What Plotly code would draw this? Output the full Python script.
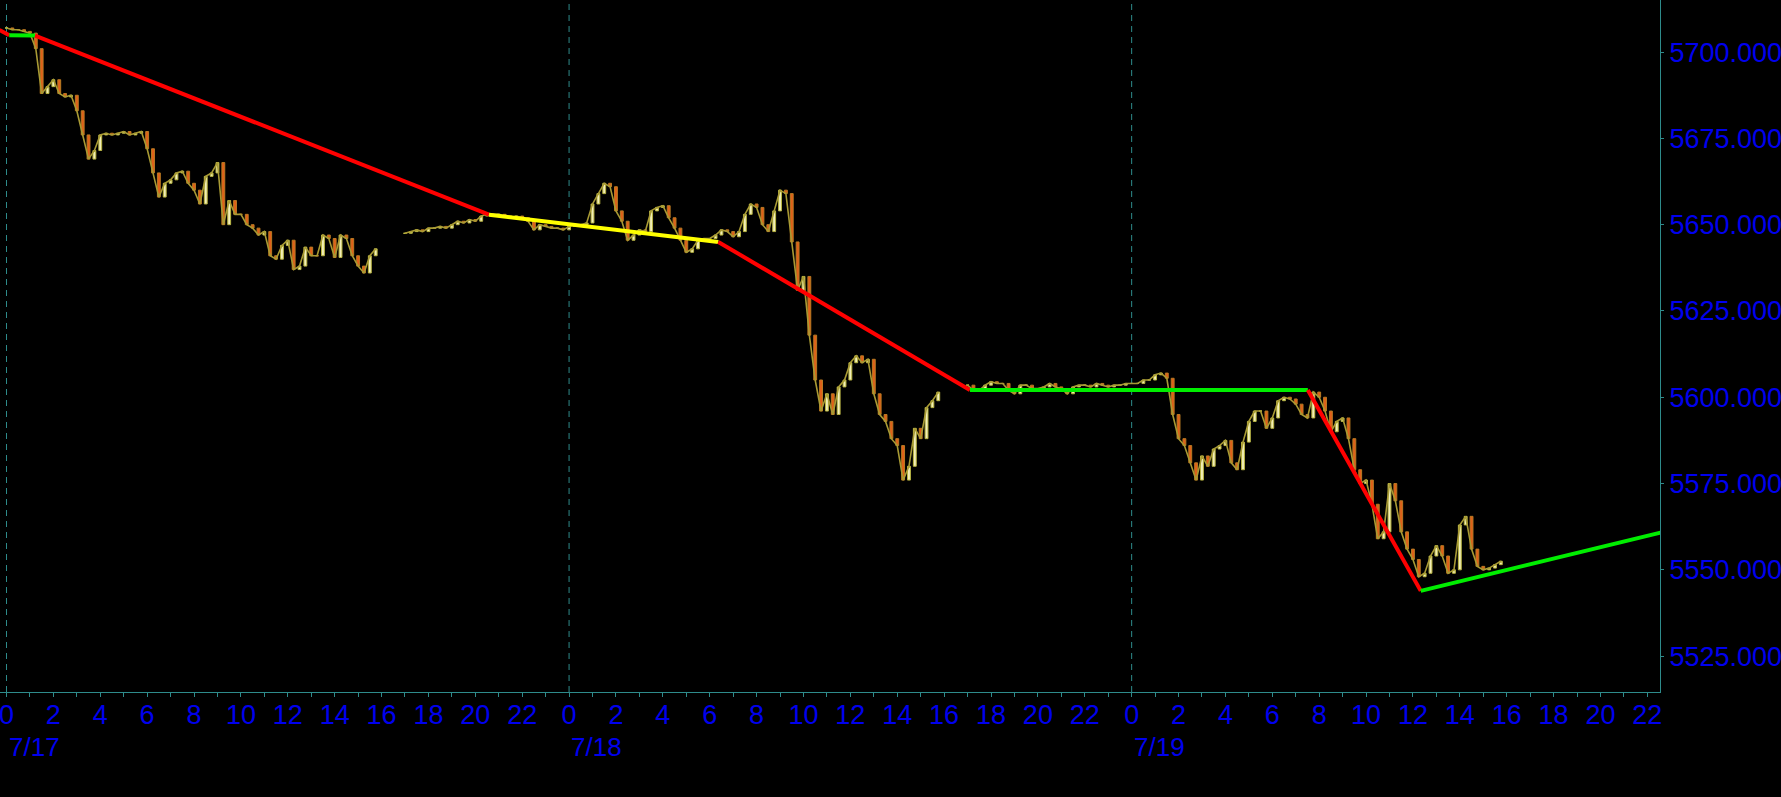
import plotly.graph_objects as go
from datetime import datetime, timedelta

# ---------------- data ----------------
session_starts = ["2024-07-17 00:00", "2024-07-17 17:00", "2024-07-18 17:00"]
bar_minutes = 15

closes_s1 = [
    5707, 5706.5, 5706.5, 5706,
    5705.5, 5701, 5688, 5690,
    5692, 5688, 5687, 5687.5,
    5683, 5676, 5669, 5671.5,
    5676, 5676.5, 5676, 5676.5,
    5677, 5676, 5676.5, 5677,
    5672, 5665, 5658, 5662,
    5663, 5665, 5665.5, 5662,
    5660, 5656, 5664, 5665,
    5668, 5650, 5657, 5653,
    5653, 5650, 5649, 5647,
    5648, 5641, 5640, 5644,
    5645.5, 5637, 5638, 5643.5,
    5641, 5641, 5647, 5646,
    5640.5, 5647, 5646, 5641,
    5638, 5636, 5641, 5643,
]
closes_s2 = [
    5647.5, 5648, 5648.5, 5648,
    5649, 5649, 5649.5, 5649,
    5650, 5651, 5650.5, 5651.5,
    5651, 5652.5, 5653, 5653,
    5653, 5652.5, 5652, 5652.5,
    5652, 5651, 5648.5, 5650,
    5649.5, 5649, 5649, 5648.5,
    5649.5, 5650, 5650, 5650.5,
    5656, 5659, 5662, 5661,
    5654, 5651, 5645.5, 5647,
    5648.5, 5648, 5654, 5655,
    5655.5, 5652, 5649, 5645.5,
    5642, 5643, 5645.5, 5646,
    5646, 5647, 5648.5, 5648,
    5646.5, 5648, 5653, 5656,
    5655, 5650, 5648, 5654,
    5660, 5659, 5645, 5631,
    5635, 5618, 5605, 5596,
    5601, 5595, 5603, 5605,
    5610, 5612, 5610, 5611,
    5601, 5595, 5593, 5588,
    5586, 5576, 5580, 5591,
    5588, 5597, 5599, 5601.5,
]
closes_s3 = [
    5603.5, 5602, 5602, 5603.5,
    5604.5, 5604, 5604, 5602,
    5601, 5603.5, 5603.5, 5602.5,
    5602.5, 5603, 5604, 5603,
    5602.5, 5601, 5603, 5603.5,
    5603.5, 5603, 5604, 5603.5,
    5603, 5603.5, 5603.5, 5604,
    5604, 5604, 5605, 5605,
    5606.5, 5607, 5605.5, 5595,
    5588, 5586, 5581, 5576,
    5583, 5580, 5585, 5586,
    5587.5, 5581, 5579, 5587,
    5593, 5596, 5596, 5591,
    5594, 5599, 5600, 5599.5,
    5598, 5595, 5594, 5601.5,
    5600, 5596, 5590, 5593,
    5594, 5588, 5579, 5575,
    5576, 5569, 5559, 5561,
    5575, 5570, 5561, 5556,
    5553, 5548, 5549, 5554,
    5557, 5554, 5549, 5550,
    5563, 5565.5, 5556, 5551,
    5550, 5550.5, 5551.5, 5552.5,
]

zz_times = ["2024-07-16 23:42", "2024-07-17 00:07", "2024-07-17 01:13",
            "2024-07-17 20:35", "2024-07-18 06:22", "2024-07-18 17:06",
            "2024-07-19 07:31", "2024-07-19 12:20", "2024-07-19 23:00"]
zz_prices = [5706.4, 5704.9, 5704.8, 5652.9, 5645.0, 5602.1, 5602.1, 5543.9, 5561.5]
zz_colors = ["#ff0000", "#00ee00", "#ff0000", "#ffff00", "#ff0000", "#00ee00", "#ff0000", "#00ee00"]

day_starts = ["2024-07-17", "2024-07-18", "2024-07-19"]
day_labels = ["7/17", "7/18", "7/19"]
y_ticks = [5525, 5550, 5575, 5600, 5625, 5650, 5675, 5700]

x_range = ["2024-07-16 23:43:22", "2024-07-19 22:32:24"]
y_range = [5514.6, 5715.1]

# ---------------- build candles ----------------
times, opens, highs, lows, closes = [], [], [], [], []
line_t, line_c = [], []
for start, cl in zip(session_starts, [closes_s1, closes_s2, closes_s3]):
    t0 = datetime.strptime(start, "%Y-%m-%d %H:%M")
    prev = cl[0]
    for i, c in enumerate(cl):
        t = t0 + timedelta(minutes=bar_minutes * i)
        times.append(t)
        opens.append(prev)
        closes.append(c)
        highs.append(max(prev, c))
        lows.append(min(prev, c))
        line_t.append(t)
        line_c.append(c)
        prev = c
    line_t.append(None)
    line_c.append(None)

TEAL = "#2e8b8b"
BLUE = "#0000ee"
NARROW = "Liberation Sans Narrow, Liberation Sans, Arial"

fig = go.Figure()
fig.add_trace(go.Scatter(
    x=line_t, y=line_c, mode="lines", connectgaps=False,
    line=dict(color="#a89a34", width=1.6), hoverinfo="skip", showlegend=False,
))
fig.add_trace(go.Candlestick(
    x=times, open=opens, high=highs, low=lows, close=closes,
    increasing=dict(line=dict(color="#b8b440", width=1), fillcolor="#f2eeb8"),
    decreasing=dict(line=dict(color="#b87a22", width=1), fillcolor="#e0601a"),
    whiskerwidth=0, hoverinfo="skip", showlegend=False,
))

for i, col in enumerate(zz_colors):
    fig.add_trace(go.Scatter(
        x=zz_times[i:i + 2], y=zz_prices[i:i + 2], mode="lines",
        line=dict(color=col, width=4), hoverinfo="skip", showlegend=False,
    ))

shapes = []
for d in day_starts:
    shapes.append(dict(type="line", xref="x", yref="paper", x0=d, x1=d, y0=0, y1=1,
                       line=dict(color=TEAL, width=1, dash="6px,5px"), layer="below"))

annotations = []
for d, lab in zip(day_starts, day_labels):
    annotations.append(dict(x=d, y=-0.08, xref="x", yref="paper", text=lab,
                            showarrow=False, xanchor="left", yanchor="middle",
                            font=dict(family=NARROW, size=26, color=BLUE)))

fig.update_layout(
    width=1781, height=797,
    margin=dict(l=0, r=121, t=0, b=105, autoexpand=False),
    paper_bgcolor="black", plot_bgcolor="black",
    shapes=shapes, annotations=annotations,
    showlegend=False,
    xaxis=dict(
        type="date", range=x_range, rangeslider=dict(visible=False),
        automargin=False, ticklabeloverflow="allow", ticklabelstandoff=-5,
        tick0="2024-07-17 00:00", dtick=7200000, tickformat="%-H",
        ticks="outside", ticklen=4, tickcolor=TEAL,
        minor=dict(dtick=3600000, ticks="outside", ticklen=4, tickcolor=TEAL, showgrid=False),
        showline=True, linecolor=TEAL, linewidth=1, mirror=False,
        showgrid=False, zeroline=False,
        tickfont=dict(family=NARROW, size=27, color=BLUE),
    ),
    yaxis=dict(
        side="right", range=y_range, tickvals=y_ticks, tickformat=".4f",
        automargin=False, ticklabeloverflow="allow",
        ticks="outside", ticklen=3, tickcolor=TEAL,
        showline=True, linecolor=TEAL, linewidth=1,
        showgrid=False, zeroline=False,
        tickfont=dict(family="Liberation Sans, Arial", size=27, color=BLUE),
    ),
)

fig.write_html("out.html", config={"displayModeBar": False},
               post_script="document.body.style.margin='0';document.body.style.background='black';")
